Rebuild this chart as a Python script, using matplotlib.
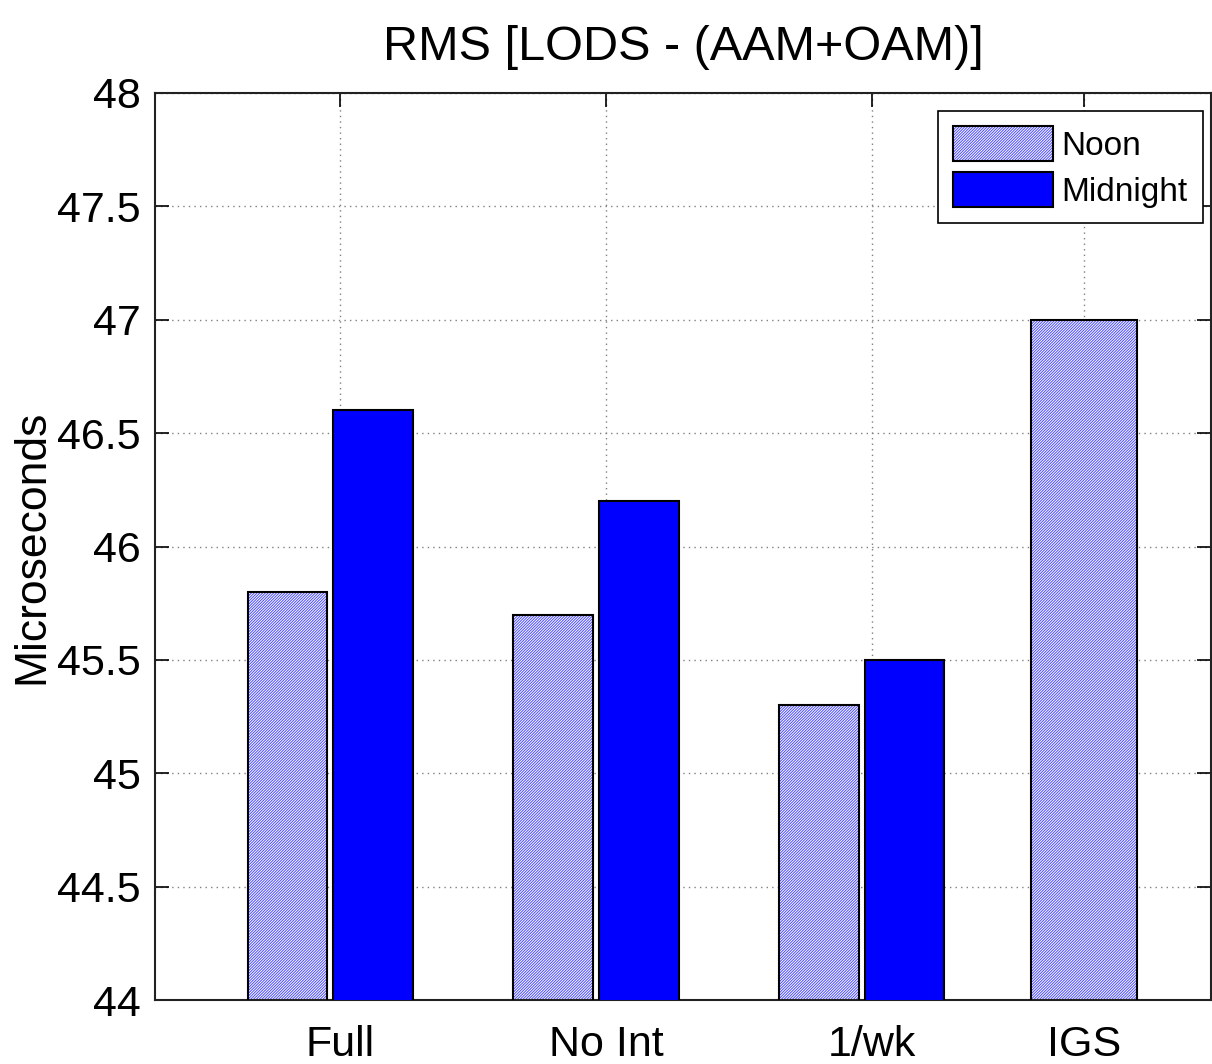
"""RMS of LOD residuals after removing AAM+OAM, noon vs midnight solutions."""

import matplotlib
matplotlib.use("Agg")
import matplotlib.pyplot as plt
from matplotlib.patches import Patch

plt.rcParams["font.family"] = ["Liberation Sans", "DejaVu Sans"]
plt.rcParams["hatch.linewidth"] = 0.7

# data
categories = ["Full", "No Int", "1/wk", "IGS"]
noon = [45.8, 45.7, 45.3, 47.0]
midnight = [46.6, 46.2, 45.5]

# layout
tick_pos = [1.0, 2.0, 3.0, 3.8]
group_shift = -0.037
offset = 0.161
bar_w = 0.30
igs_w = 0.40

HATCH_BLUE = "#4a4aff"
MID_BLUE = "#0000ff"
HATCH = "/" * 12

fig = plt.figure(figsize=(12.12, 10.64), dpi=100)
ax = fig.add_axes([155 / 1212, 64 / 1064, 1056 / 1212, 907 / 1064])

n_grp = len(midnight)
noon_x = [tick_pos[i] + group_shift - offset for i in range(n_grp)] + [tick_pos[-1]]
noon_w = [bar_w] * n_grp + [igs_w]
mid_x = [tick_pos[i] + group_shift + offset for i in range(n_grp)]

# hatched fill first, then a black outline on top
ax.bar(noon_x, noon, width=noon_w, facecolor="white", edgecolor=HATCH_BLUE,
       hatch=HATCH, linewidth=0, zorder=2)
ax.bar(noon_x, noon, width=noon_w, fill=False, edgecolor="black",
       linewidth=1.5, zorder=3)
ax.bar(mid_x, midnight, width=bar_w, color=MID_BLUE, edgecolor="black",
       linewidth=1.5, zorder=3)

ax.set_xlim(0.303, 4.277)
ax.set_ylim(44, 48)
ax.set_yticks([44 + 0.5 * k for k in range(9)])
ax.set_yticklabels(["44", "44.5", "45", "45.5", "46", "46.5", "47", "47.5", "48"])
ax.set_xticks(tick_pos)
ax.set_xticklabels(categories)

ax.tick_params(axis="both", direction="in", length=10, width=1.2,
               top=True, right=True, labelsize=31)
ax.tick_params(axis="y", pad=10)
ax.tick_params(axis="x", pad=18)
ax.grid(True, linestyle=(0, (1, 3)), color="#808080", linewidth=1.0)
ax.set_axisbelow(True)
for s in ax.spines.values():
    s.set_linewidth(1.5)
    s.set_color("#222222")

ax.set_ylabel("Microseconds", fontsize=32)
ax.yaxis.set_label_coords(-0.097, 0.5)
ax.set_title("RMS [LODS - (AAM+OAM)]", fontsize=35, pad=24)

h_noon = (Patch(facecolor="white", edgecolor=HATCH_BLUE, hatch=HATCH, linewidth=0),
          Patch(fill=False, edgecolor="black", linewidth=1.5))
h_mid = Patch(facecolor=MID_BLUE, edgecolor="black", linewidth=1.5)
leg = ax.legend([h_noon, h_mid], ["Noon", "Midnight"], loc="upper right",
                bbox_to_anchor=(0.992, 0.98), fontsize=24, fancybox=False,
                framealpha=1, edgecolor="black", handlelength=3.0,
                handleheight=1.25, handletextpad=0.25, borderpad=0.45,
                labelspacing=0.3, borderaxespad=0)
leg.get_frame().set_linewidth(1.2)

fig.savefig("out.png", dpi=100)
